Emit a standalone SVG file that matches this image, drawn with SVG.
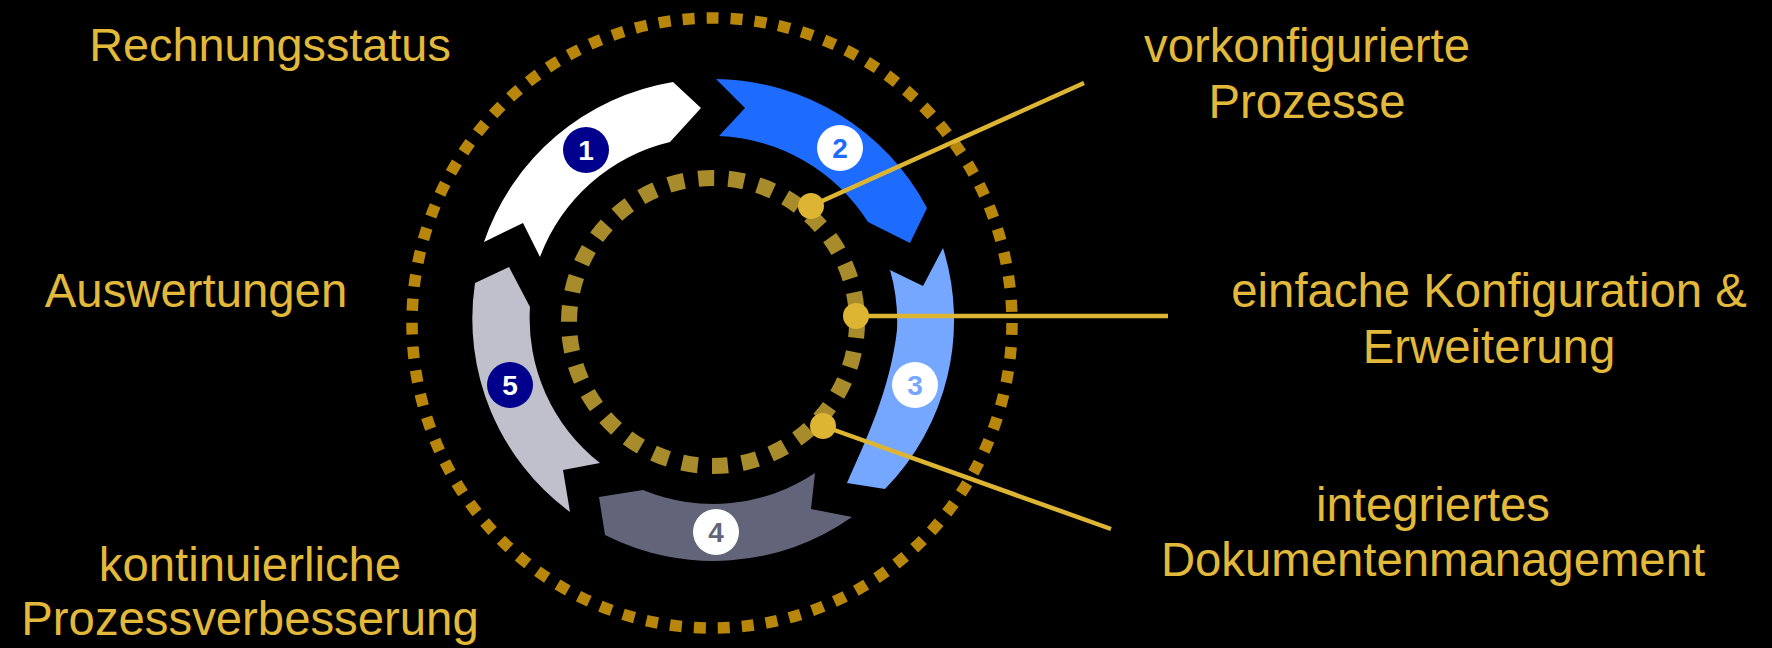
<svg xmlns="http://www.w3.org/2000/svg" width="1772" height="648" viewBox="0 0 1772 648">
<style>
.lbl{font-family:"Liberation Sans",Arial,sans-serif;font-size:47.3px;fill:#E2B93B;text-anchor:middle}
.num{font-family:"Liberation Sans",Arial,sans-serif;font-size:28px;font-weight:bold;text-anchor:middle}
.conn{stroke:#DDB533;stroke-width:4.5;fill:none}
.dot{fill:#DDB533}
</style>
<rect width="1772" height="648" fill="#000"/>
<g id="outer-ring">
<ellipse cx="712" cy="323" rx="300" ry="305" fill="none" stroke="#B8860B" stroke-width="11.5" stroke-dasharray="12 12.06"/>
</g>
<g id="inner-ring">
<circle cx="713" cy="322" r="144" fill="none" stroke="#A88B2B" stroke-width="16" stroke-dasharray="16 14.16"/>
</g>
<g id="step1">
<path d="M484,242 A241,241 0 0 1 673,82 L701,108 L670,142 A184,184 0 0 0 540,257 L523,223 Z" fill="#FFFFFF"/>
<circle cx="586" cy="150" r="23" fill="#00008C"/>
<text class="num" x="586" y="160" fill="#FFFFFF">1</text>
</g>
<g id="step2">
<path d="M716,79 A242,242 0 0 1 927,208 L910,243 L868,222 A185,185 0 0 0 719,136 L745,108 Z" fill="#1E6CFF"/>
<circle cx="840" cy="148" r="23" fill="#FFFFFF"/>
<text class="num" x="840" y="158" fill="#1E6CFF">2</text>
</g>
<g id="step3">
<path d="M943,248 A241,241 0 0 1 885,489 L847,483 C866,440 890,390 897,330 A185,185 0 0 0 890,270 L923,286 Z" fill="#76A7FF"/>
<circle cx="915" cy="385" r="23" fill="#FFFFFF"/>
<text class="num" x="915" y="395" fill="#76A7FF">3</text>
</g>
<g id="step4">
<path d="M852,517 A240,240 0 0 1 605,535 L599,497 L643,490 A183,183 0 0 0 815,473 L811,509 Z" fill="#62647A"/>
<circle cx="716" cy="532" r="23" fill="#FFFFFF"/>
<text class="num" x="716" y="542" fill="#62647A">4</text>
</g>
<g id="step5">
<path d="M570,512 A240,240 0 0 1 475,283 L509,267 L530,307 A183,183 0 0 0 600,463 L563,470 Z" fill="#C0C0CC"/>
<circle cx="510" cy="385" r="23" fill="#00008C"/>
<text class="num" x="510" y="395" fill="#FFFFFF">5</text>
</g>
<g id="connectors">
<line class="conn" x1="811" y1="206" x2="1084" y2="83"/>
<circle class="dot" cx="811" cy="206" r="13"/>
<line class="conn" x1="856" y1="316" x2="1168" y2="316"/>
<circle class="dot" cx="856" cy="316" r="13"/>
<line class="conn" x1="823" y1="426" x2="1111" y2="529"/>
<circle class="dot" cx="823" cy="426" r="13"/>
</g>
<g id="label-rechnungsstatus"><text class="lbl" x="270" y="61" style="font-size:46.8px">Rechnungsstatus</text></g>
<g id="label-auswertungen"><text class="lbl" x="196" y="307">Auswertungen</text></g>
<g id="label-kvp"><text class="lbl" x="250" y="581">kontinuierliche</text><text class="lbl" x="250" y="635">Prozessverbesserung</text></g>
<g id="label-vorkonfiguriert"><text class="lbl" x="1307" y="62">vorkonfigurierte</text><text class="lbl" x="1307" y="118">Prozesse</text></g>
<g id="label-konfiguration"><text class="lbl" x="1489" y="307">einfache Konfiguration &amp;</text><text class="lbl" x="1489" y="363">Erweiterung</text></g>
<g id="label-dms"><text class="lbl" x="1433" y="521">integriertes</text><text class="lbl" x="1433" y="576">Dokumentenmanagement</text></g>
</svg>
